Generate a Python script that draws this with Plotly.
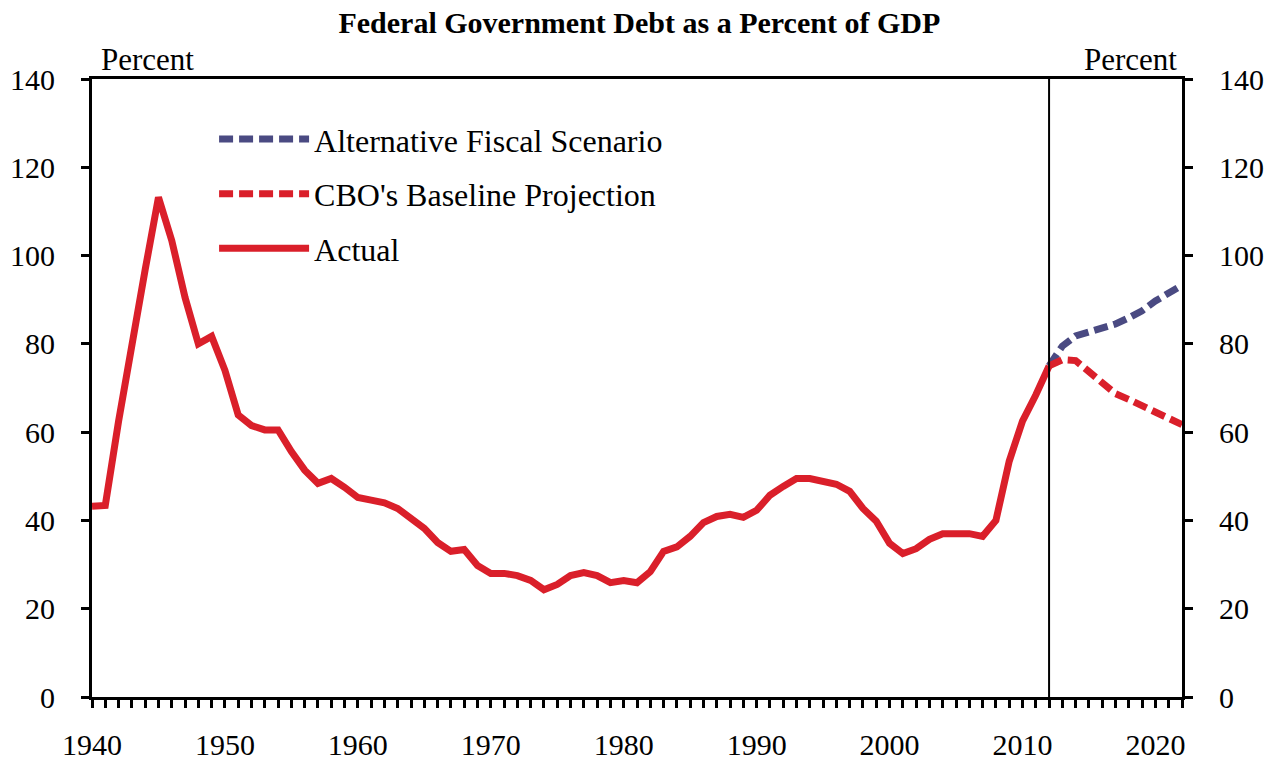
import plotly.graph_objects as go

# ---- data ----
years_actual = list(range(1940, 2013))
actual = [43.2, 43.4, 62.5, 80.5, 96.8, 113.2, 103.4, 90.5, 80.0, 81.7,
          74.0, 63.9, 61.5, 60.5, 60.5, 55.6, 51.4, 48.4, 49.5, 47.5,
          45.2, 44.6, 44.0, 42.7, 40.2, 38.2, 35.0, 33.0, 33.4, 29.8,
          28.0, 28.0, 27.5, 26.4, 24.3, 25.5, 27.5, 28.2, 27.5, 25.9,
          26.4, 25.9, 28.4, 33.0, 34.0, 36.4, 39.5, 40.9, 41.4, 40.7,
          42.3, 45.7, 47.7, 49.5, 49.5, 48.9, 48.2, 46.6, 42.7, 39.8,
          34.8, 32.5, 33.6, 35.7, 37.0, 37.0, 37.0, 36.4, 40.0, 53.4,
          62.5, 68.4, 75.0]

years_proj = list(range(2012, 2023))
alt_scenario = [75.0, 79.5, 81.8, 82.7, 83.2, 84.5, 85.9, 87.5, 89.7, 91.6, 93.3]
cbo_baseline = [75.0, 76.4, 76.2, 73.8, 71.1, 68.7, 67.4, 65.9, 64.5, 63.0, 61.7]

x_tick_labels = list(range(1940, 2021, 10))
y_ticks = list(range(0, 141, 20))
projection_start = 2012
title_text = "Federal Government Debt as a Percent of GDP"

RED = "#DA1F2A"
NAVY = "#4A4A82"
FONT = "Liberation Serif, Times New Roman, serif"

fig = go.Figure()
fig.add_trace(go.Scatter(x=years_proj, y=alt_scenario, mode="lines",
                         name="Alternative Fiscal Scenario", legendgroup="a",
                         line=dict(color=NAVY, width=7, dash="14px,6px"), yaxis="y2"))
fig.add_trace(go.Scatter(x=years_proj, y=cbo_baseline, mode="lines",
                         name="CBO's Baseline Projection", legendgroup="b",
                         line=dict(color=RED, width=7, dash="14px,6px"), yaxis="y2"))
fig.add_trace(go.Scatter(x=years_actual, y=actual, mode="lines",
                         name="Actual", legendgroup="c",
                         line=dict(color=RED, width=7)))

fig.add_shape(type="line", xref="x", yref="paper", x0=projection_start, x1=projection_start,
              y0=0, y1=1, line=dict(color="black", width=2))

axis_font = dict(family=FONT, size=30, color="black")

fig.update_layout(
    width=1266, height=762,
    margin=dict(l=92, r=84, t=79, b=65, autoexpand=False),
    paper_bgcolor="white", plot_bgcolor="white",
    font=dict(family=FONT, color="black"),
    title=dict(text="<b>" + title_text + "</b>", x=0.505, xanchor="center",
               y=0.97, yanchor="middle", font=dict(family=FONT, size=30)),
    showlegend=True,
    legend=dict(x=0.112, y=0.947, xanchor="left", yanchor="top",
                font=dict(family=FONT, size=32), itemwidth=90,
                traceorder="grouped", tracegroupgap=10, bgcolor="rgba(0,0,0,0)"),
    xaxis=dict(range=[1940, 2022], tickvals=x_tick_labels, ticks="outside",
               ticklen=8, tickwidth=3, tickcolor="black", automargin=False,
               minor=dict(dtick=1, tick0=1940, ticks="outside", ticklen=8, tickwidth=3, tickcolor="black"),
               showline=True, linewidth=3, linecolor="black", mirror=True,
               showgrid=False, zeroline=False, tickfont=axis_font, ticklabelstandoff=11),
    yaxis=dict(range=[0, 140], tickvals=y_ticks, ticks="outside", ticklen=8, tickwidth=3,
               tickcolor="black", showline=True, linewidth=3, linecolor="black", automargin=False,
               showgrid=False, zeroline=False, tickfont=axis_font, ticklabelstandoff=20),
    yaxis2=dict(range=[0, 140], tickvals=y_ticks, ticks="outside", ticklen=8, tickwidth=3,
                tickcolor="black", showline=True, linewidth=3, linecolor="black", automargin=False,
                overlaying="y", side="right", showgrid=False, zeroline=False,
                tickfont=axis_font, ticklabelstandoff=20),
    annotations=[
        dict(text="Percent", xref="paper", yref="paper", x=0.006, y=1.0, xanchor="left",
             yanchor="bottom", showarrow=False, font=dict(family=FONT, size=31)),
        dict(text="Percent", xref="paper", yref="paper", x=0.997, y=1.0, xanchor="right",
             yanchor="bottom", showarrow=False, font=dict(family=FONT, size=31)),
    ],
)

fig.write_html("out.html", config={"displayModeBar": False},
               post_script="document.body.style.margin='0';document.body.style.overflow='hidden';")
